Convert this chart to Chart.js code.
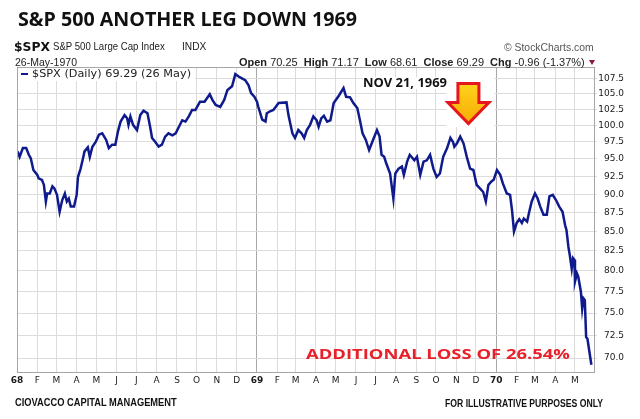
<!DOCTYPE html>
<html>
<head>
<meta charset="utf-8">
<script src="https://cdn.jsdelivr.net/npm/chart.js@4.4.1/dist/chart.umd.min.js"></script>
<style>
    body { margin: 0; background: #fff; }
    #wrap { position: relative; width: 640px; height: 419px; overflow: hidden; }
    #mycanvas { position: absolute; left: 0; top: 0; }
    .txt { position: absolute; white-space: nowrap; display: inline-block; transform-origin: 0 50%; color: #111; }
    .box { position: absolute; background: #fff; }
</style>
</head>
<body>
<div id="wrap">
    <canvas id="mycanvas" width="640" height="419"></canvas>
    <div class="box" style="left:18px;top:68px;width:177px;height:13px"></div>

    <div class="txt" data-w="339" style="left:18px;top:9.8px;font:700 19px/19px 'Open Sans';color:#111">S&amp;P 500 ANOTHER LEG DOWN 1969</div>
    <div class="txt" data-w="36" style="left:13.5px;top:40.5px;font:700 12px/12px 'DejaVu Sans'">$SPX</div>
    <div class="txt" data-w="111.7" style="left:53.3px;top:41.4px;font:400 10.5px/10.5px 'Liberation Sans';color:#222">S&amp;P 500 Large Cap Index</div>
    <div class="txt" data-w="24.3" style="left:181.7px;top:41.4px;font:400 10.5px/10.5px 'Liberation Sans';color:#222">INDX</div>
    <div class="txt" data-w="89.7" style="left:504.3px;top:42px;font:400 10.5px/10.5px 'Liberation Sans';color:#555">© StockCharts.com</div>
    <div class="txt" data-w="62" style="left:15px;top:56.7px;font:400 10.5px/10.5px 'Liberation Sans';color:#222">26-May-1970</div>
    <div class="txt" data-w="345.7" style="left:239.3px;top:56.5px;font:400 11px/11px 'Liberation Sans';color:#222"><b>Open</b> 70.25 &nbsp;<b>High</b> 71.17 &nbsp;<b>Low</b> 68.61 &nbsp;<b>Close</b> 69.29 &nbsp;<b>Chg</b> -0.96 (-1.37%)</div>
    <div style="position:absolute;left:589px;top:60px;width:0;height:0;border-left:3.5px solid transparent;border-right:3.5px solid transparent;border-top:5px solid #8b1a3a"></div>

    <div style="position:absolute;left:20.7px;top:72.8px;width:7.6px;height:2.5px;background:#0f1a8c"></div>
    <div class="txt" data-w="159" style="left:31.7px;top:69px;font:400 10px/10px 'DejaVu Sans';color:#222">$SPX (Daily) 69.29 (26 May)</div>

    <div class="txt" data-w="84" style="left:362.7px;top:76.5px;font:700 12px/12px 'Open Sans';background:#fff;color:#111">NOV 21, 1969</div>
    <div class="txt" data-w="264" style="left:306px;top:347.3px;font:700 14px/14px 'Open Sans';color:#e8202a">ADDITIONAL LOSS OF 26.54%</div>

    <div class="txt" data-w="161.7" style="left:15px;top:398px;font:700 10px/10px 'Liberation Sans';color:#111">CIOVACCO CAPITAL MANAGEMENT</div>
    <div class="txt" data-w="158" style="left:445px;top:398.7px;font:700 10px/10px 'Liberation Sans';color:#111">FOR ILLUSTRATIVE PURPOSES ONLY</div>
</div>
<script>
// S&P 500 closes (roughly every few trading days)
var dates = [
    '1968-01-02','1968-01-05','1968-01-10','1968-01-15','1968-01-19','1968-01-22','1968-01-26','1968-02-01','1968-02-03','1968-02-08',
    '1968-02-11','1968-02-14','1968-02-16','1968-02-20','1968-02-24','1968-02-27','1968-03-02','1968-03-06','1968-03-10','1968-03-14',
    '1968-03-17','1968-03-20','1968-03-23','1968-03-28','1968-04-01','1968-04-03','1968-04-07','1968-04-10','1968-04-13','1968-04-18',
    '1968-04-21','1968-04-25','1968-04-30','1968-05-05','1968-05-10','1968-05-16','1968-05-20','1968-05-25','1968-05-30','1968-06-03',
    '1968-06-07','1968-06-13','1968-06-17','1968-06-19','1968-06-22','1968-06-26','1968-07-02','1968-07-07','1968-07-12','1968-07-18',
    '1968-07-22','1968-07-25','1968-07-30','1968-08-04','1968-08-09','1968-08-14','1968-08-19','1968-08-25','1968-08-30','1968-09-04',
    '1968-09-09','1968-09-14','1968-09-19','1968-09-24','1968-09-29','1968-10-06','1968-10-13','1968-10-21','1968-10-25','1968-10-30',
    '1968-11-06','1968-11-12','1968-11-17','1968-11-24','1968-11-29','1968-12-04','1968-12-09','1968-12-14','1968-12-19','1968-12-23',
    '1968-12-28','1969-01-01','1969-01-03','1969-01-09','1969-01-14','1969-01-16','1969-01-21','1969-01-26','1969-02-03','1969-02-15',
    '1969-02-18','1969-02-24','1969-02-28','1969-03-05','1969-03-10','1969-03-14','1969-03-18','1969-03-23','1969-03-28','1969-04-02',
    '1969-04-05','1969-04-09','1969-04-13','1969-04-18','1969-04-23','1969-04-28','1969-05-06','1969-05-13','1969-05-17','1969-05-23',
    '1969-05-28','1969-06-03','1969-06-07','1969-06-11','1969-06-16','1969-06-21','1969-06-27','1969-07-03','1969-07-07','1969-07-10',
    '1969-07-14','1969-07-17','1969-07-23','1969-07-28','1969-07-31','1969-08-05','1969-08-10','1969-08-13','1969-08-18','1969-08-22',
    '1969-08-29','1969-09-02','1969-09-07','1969-09-12','1969-09-17','1969-09-22','1969-09-27','1969-10-02','1969-10-07','1969-10-12',
    '1969-10-18','1969-10-23','1969-10-27','1969-10-29','1969-11-02','1969-11-07','1969-11-12','1969-11-17','1969-11-22','1969-11-27',
    '1969-12-02','1969-12-07','1969-12-12','1969-12-16','1969-12-20','1969-12-25','1969-12-28','1970-01-02','1970-01-07','1970-01-11',
    '1970-01-17','1970-01-22','1970-01-25','1970-01-28','1970-02-01','1970-02-05','1970-02-09','1970-02-12','1970-02-17','1970-02-20',
    '1970-02-24','1970-03-01','1970-03-05','1970-03-09','1970-03-14','1970-03-19','1970-03-23','1970-03-28','1970-04-02','1970-04-07',
    '1970-04-12','1970-04-16','1970-04-18','1970-04-21','1970-04-23','1970-04-26','1970-04-28','1970-04-30','1970-05-01','1970-05-04',
    '1970-05-06','1970-05-10','1970-05-12','1970-05-14','1970-05-16','1970-05-18','1970-05-20','1970-05-26'
];
var closes = [
    96.1, 95.3, 96.6, 96.6, 95.6, 95.1, 93.4, 92.7, 92.2, 92.0,
    91.3, 89.0, 90.1, 90.1, 91.1, 90.8, 89.9, 87.6, 89.2, 90.1,
    89.0, 89.4, 88.3, 88.3, 89.9, 92.4, 93.6, 94.8, 96.1, 96.7,
    95.3, 96.8, 97.5, 98.6, 98.8, 97.8, 96.6, 97.1, 97.1, 99.1,
    100.6, 101.6, 101.1, 100.1, 101.4, 100.1, 99.3, 101.6, 102.3, 101.9,
    99.8, 98.1, 97.5, 96.8, 97.1, 98.3, 98.8, 98.5, 98.8, 99.8,
    100.8, 100.6, 101.4, 102.4, 102.4, 103.7, 103.7, 104.9, 104.0, 103.2,
    102.9, 104.0, 105.6, 106.2, 108.2, 107.8, 107.5, 107.2, 106.4, 105.1,
    104.5, 103.7, 102.9, 100.9, 100.6, 101.9, 102.2, 102.4, 103.5, 103.6,
    101.6, 98.8, 98.1, 99.3, 98.8, 98.1, 99.3, 100.1, 101.4, 100.8,
    99.8, 101.1, 101.5, 100.6, 100.8, 103.5, 104.7, 105.9, 104.5, 104.4,
    103.5, 102.7, 100.8, 98.8, 97.8, 96.3, 97.8, 99.3, 98.3, 95.6,
    95.3, 94.4, 92.9, 89.4, 92.9, 93.6, 93.9, 92.7, 94.6, 95.6,
    94.8, 95.3, 92.7, 94.6, 94.8, 95.6, 93.6, 92.4, 92.9, 95.3,
    96.6, 98.1, 97.5, 96.8, 97.3, 98.3, 97.3, 95.3, 93.6, 93.4,
    91.3, 90.8, 90.3, 89.0, 91.3, 91.8, 92.0, 93.4, 92.7, 91.5,
    90.1, 89.9, 87.8, 85.0, 86.1, 86.6, 86.1, 86.7, 86.3, 87.5,
    89.0, 90.1, 89.4, 88.3, 87.2, 87.2, 89.7, 89.9, 89.2, 88.3,
    87.6, 85.8, 85.2, 83.0, 82.0, 80.3, 81.6, 81.4, 78.7, 79.7,
    79.3, 77.5, 75.5, 76.7, 76.5, 72.3, 72.1, 69.29
];

var monthTicks = [
    '1968-01-01','1968-02-01','1968-03-01','1968-04-01','1968-05-01','1968-06-01','1968-07-01','1968-08-01','1968-09-01','1968-10-01','1968-11-01','1968-12-01',
    '1969-01-01','1969-02-01','1969-03-01','1969-04-01','1969-05-01','1969-06-01','1969-07-01','1969-08-01','1969-09-01','1969-10-01','1969-11-01','1969-12-01',
    '1970-01-01','1970-02-01','1970-03-01','1970-04-01','1970-05-01'
];
var monthLabels = ['68','F','M','A','M','J','J','A','S','O','N','D','69','F','M','A','M','J','J','A','S','O','N','D','70','F','M','A','M'];
var priceTicks = [70.0, 72.5, 75.0, 77.5, 80.0, 82.5, 85.0, 87.5, 90.0, 92.5, 95.0, 97.5, 100.0, 102.5, 105.0, 107.5];
var arrowDate = '1969-11-21';

var startMs = Date.UTC(1968, 0, 1);
function dayNum(s) {
    var p = s.split('-');
    return (Date.UTC(+p[0], +p[1] - 1, +p[2]) - startMs) / 86400000;
}
var tickDays = monthTicks.map(dayNum);
var yearDays = [dayNum('1969-01-01'), dayNum('1970-01-01')];

var points = [];
for (var i in dates) {
    points.push({ x: dayNum(dates[i]), y: closes[i] });
}

const decor = {
    id: 'decor',
    beforeDatasetsDraw: function (chart) {
        var c = chart.ctx;
        var tx = chart.scales.x.getPixelForValue(dayNum(arrowDate));
        c.save();
        c.fillStyle = '#fff';
        c.fillRect(tx - 23, 68, 48, 59);
        c.restore();
    },
    afterDatasetsDraw: function (chart) {
        var c = chart.ctx;
        var a = chart.chartArea;
        var tx = chart.scales.x.getPixelForValue(dayNum(arrowDate)) - 1;
        var ty = 123.5;
        c.save();
        c.strokeStyle = '#a6a6a6';
        c.lineWidth = 1;
        c.strokeRect(a.left + 0.5, a.top + 0.5, a.right - a.left, a.bottom - a.top);

        c.beginPath();
        c.moveTo(tx - 10.5, ty - 40);
        c.lineTo(tx + 10.5, ty - 40);
        c.lineTo(tx + 10.5, ty - 21);
        c.lineTo(tx + 20.5, ty - 21);
        c.lineTo(tx, ty);
        c.lineTo(tx - 20.5, ty - 21);
        c.lineTo(tx - 10.5, ty - 21);
        c.closePath();
        var g = c.createLinearGradient(0, ty - 40, 0, ty);
        g.addColorStop(0, '#ffd21a');
        g.addColorStop(1, '#f7ac06');
        c.fillStyle = g;
        c.fill();
        c.lineWidth = 3;
        c.lineJoin = 'miter';
        c.strokeStyle = '#e5161d';
        c.stroke();
        c.restore();
    }
};

var ctx = document.getElementById('mycanvas');
var lineGraph = new Chart(ctx, {
    type: 'line',
    data: {
        datasets: [{
            label: '$SPX (Daily)',
            data: points,
            borderColor: '#0f1a8c',
            borderWidth: 2.5,
            pointRadius: 0,
            tension: 0,
            fill: false
        }]
    },
    options: {
        responsive: false,
        animation: false,
        devicePixelRatio: 1,
        layout: { padding: { left: 17, top: 67, right: 16, bottom: 0 } },
        plugins: { legend: { display: false }, tooltip: { enabled: false } },
        scales: {
            x: {
                type: 'linear',
                min: 0,
                max: 880,
                afterBuildTicks: function (scale) {
                    scale.ticks = tickDays.map(function (d) { return { value: d }; });
                },
                afterFit: function (scale) { scale.height = 47; },
                grid: {
                    drawTicks: false,
                    color: function (c) {
                        return c.tick && yearDays.indexOf(c.tick.value) >= 0 ? '#a8a8a8' : '#dcdcdc';
                    }
                },
                border: { color: '#a6a6a6' },
                ticks: {
                    autoSkip: false,
                    maxRotation: 0,
                    padding: 3,
                    color: '#1a1a1a',
                    font: function (c) {
                        var isYear = c.tick && (c.tick.value === 0 || yearDays.indexOf(c.tick.value) >= 0);
                        return { family: 'DejaVu Sans', size: 9, weight: isYear ? 'bold' : 'normal' };
                    },
                    callback: function (v) {
                        var k = tickDays.indexOf(v);
                        return k >= 0 ? monthLabels[k] : '';
                    }
                }
            },
            y: {
                type: 'logarithmic',
                position: 'right',
                min: 68.52,
                max: 109.38,
                afterBuildTicks: function (scale) {
                    scale.ticks = priceTicks.map(function (v) { return { value: v }; });
                },
                afterFit: function (scale) { scale.width = 30; },
                grid: { color: '#dcdcdc', tickLength: 3 },
                border: { color: '#a6a6a6' },
                ticks: {
                    crossAlign: 'far',
                    color: '#1a1a1a',
                    font: { family: 'DejaVu Sans', size: 9 },
                    callback: function (v) { return Number(v).toFixed(1); }
                }
            }
        }
    },
    plugins: [decor]
});

document.querySelectorAll('[data-w]').forEach(function (el) {
    var w = +el.dataset.w;
    var real = el.getBoundingClientRect().width;
    if (real > 0) el.style.transform = 'scaleX(' + (w / real).toFixed(3) + ')';
});
</script>
</body>
</html>
